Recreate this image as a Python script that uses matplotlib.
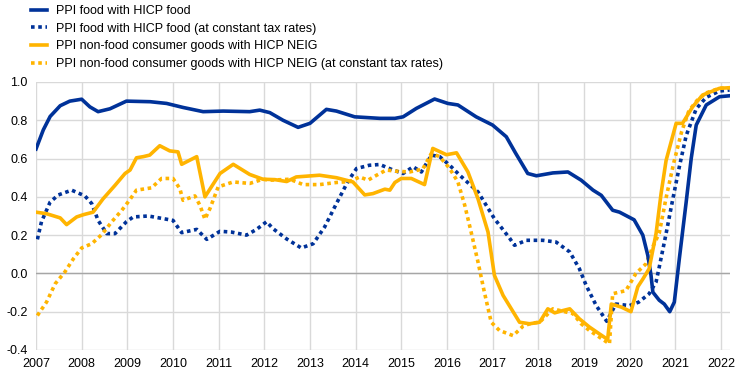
import matplotlib
matplotlib.use('Agg')
import matplotlib.pyplot as plt

plt.rcParams['font.family'] = ['Liberation Sans', 'DejaVu Sans']
plt.rcParams['axes.unicode_minus'] = False

# PPI food with HICP food
food_x = [2007.0, 2007.16, 2007.31, 2007.53, 2007.74, 2008.0, 2008.18, 2008.36, 2008.62, 2008.98,
          2009.5, 2009.86, 2010.22, 2010.66, 2011.1, 2011.68, 2011.9, 2012.12, 2012.41, 2012.74,
          2013.0, 2013.36, 2013.58, 2013.98, 2014.53, 2014.86, 2015.04, 2015.33, 2015.73, 2016.02,
          2016.24, 2016.64, 2017.0, 2017.3, 2017.5, 2017.77, 2017.96, 2018.32, 2018.65, 2018.94,
          2019.2, 2019.38, 2019.63, 2019.78, 2020.1, 2020.29, 2020.4, 2020.47, 2020.51, 2020.65,
          2020.76, 2020.88, 2020.98, 2021.09, 2021.24, 2021.35, 2021.46, 2021.68, 2021.97, 2022.19]
food_y = [0.65, 0.75, 0.82, 0.876, 0.90, 0.91, 0.87, 0.845, 0.86, 0.90,
          0.897, 0.888, 0.867, 0.845, 0.848, 0.845, 0.853, 0.84, 0.80, 0.763,
          0.784, 0.857, 0.848, 0.818, 0.81, 0.81, 0.818, 0.862, 0.911, 0.888,
          0.88, 0.818, 0.775, 0.714, 0.63, 0.522, 0.51, 0.525, 0.53, 0.487,
          0.435, 0.408, 0.33, 0.32, 0.28, 0.2, 0.094, -0.01, -0.098, -0.14,
          -0.16, -0.2, -0.15, 0.077, 0.373, 0.60, 0.775, 0.88, 0.923, 0.928]

# PPI food with HICP food (at constant tax rates)
food_ct_x = [2007.03, 2007.12, 2007.31, 2007.49, 2007.78, 2008.07, 2008.22, 2008.36, 2008.55, 2008.73,
             2008.98, 2009.13, 2009.46, 2009.79, 2010.0, 2010.19, 2010.52, 2010.74, 2011.03, 2011.28,
             2011.61, 2011.83, 2012.05, 2012.19, 2012.49, 2012.81, 2013.07, 2013.32, 2013.58, 2013.83,
             2014.02, 2014.3, 2014.53, 2014.82, 2015.04, 2015.26, 2015.44, 2015.66, 2015.84, 2016.06,
             2016.28, 2016.68, 2017.04, 2017.37, 2017.48, 2017.74, 2018.1, 2018.39, 2018.69, 2018.9,
             2019.05, 2019.27, 2019.5, 2019.7, 2020.0, 2020.2, 2020.43, 2020.58, 2020.65, 2020.8,
             2020.94, 2021.09, 2021.24, 2021.46, 2021.68, 2021.97, 2022.19]
food_ct_y = [0.178, 0.27, 0.373, 0.41, 0.435, 0.405, 0.365, 0.277, 0.208, 0.208,
             0.27, 0.295, 0.30, 0.286, 0.277, 0.213, 0.23, 0.178, 0.22, 0.216,
             0.2, 0.23, 0.27, 0.234, 0.18, 0.133, 0.155, 0.242, 0.365, 0.48,
             0.548, 0.565, 0.569, 0.54, 0.522, 0.557, 0.53, 0.618, 0.61, 0.565,
             0.513, 0.426, 0.286, 0.185, 0.147, 0.173, 0.173, 0.164, 0.112, 0.025,
             -0.063, -0.168, -0.25, -0.16, -0.168, -0.15, -0.106, -0.045, 0.033, 0.208,
             0.38, 0.557, 0.72, 0.86, 0.92, 0.953, 0.958]

# PPI non-food consumer goods with HICP NEIG
neig_x = [2007.0, 2007.23, 2007.53, 2007.67, 2007.89, 2008.04, 2008.25, 2008.47, 2008.73, 2008.95,
          2009.06, 2009.2, 2009.35, 2009.49, 2009.71, 2009.93, 2010.11, 2010.19, 2010.52, 2010.7,
          2011.03, 2011.32, 2011.68, 2011.97, 2012.23, 2012.49, 2012.7, 2013.21, 2013.58, 2013.94,
          2014.2, 2014.38, 2014.64, 2014.75, 2014.86, 2015.0, 2015.22, 2015.51, 2015.69, 2015.99,
          2016.21, 2016.46, 2016.68, 2016.9, 2017.04, 2017.23, 2017.41, 2017.59, 2017.81, 2018.03,
          2018.21, 2018.36, 2018.54, 2018.69, 2018.9, 2019.12, 2019.34, 2019.52, 2019.6, 2019.82,
          2020.03, 2020.18, 2020.29, 2020.43, 2020.58, 2020.69, 2020.8, 2021.02, 2021.16, 2021.38,
          2021.6, 2021.97, 2022.19]
neig_y = [0.32, 0.312, 0.29, 0.255, 0.295, 0.307, 0.32, 0.39, 0.46, 0.522,
          0.54, 0.604, 0.61, 0.618, 0.667, 0.64, 0.635, 0.57, 0.61, 0.40,
          0.522, 0.57, 0.517, 0.492, 0.49, 0.48, 0.504, 0.513, 0.5, 0.478,
          0.41, 0.417, 0.44, 0.435, 0.475, 0.496, 0.496, 0.464, 0.653, 0.62,
          0.63, 0.53, 0.39, 0.216, -0.01, -0.115, -0.185, -0.255, -0.263, -0.255,
          -0.185, -0.206, -0.194, -0.185, -0.237, -0.28, -0.316, -0.345, -0.16, -0.176,
          -0.2, -0.07, -0.03, 0.025, 0.208, 0.417, 0.59, 0.784, 0.784, 0.87,
          0.932, 0.967, 0.97]

# PPI non-food consumer goods with HICP NEIG (at constant tax rates)
neig_ct_x = [2007.03, 2007.23, 2007.42, 2007.63, 2007.82, 2008.0, 2008.22, 2008.44, 2008.66, 2008.88,
             2009.06, 2009.2, 2009.53, 2009.75, 2010.0, 2010.15, 2010.22, 2010.48, 2010.59, 2010.7,
             2010.81, 2010.99, 2011.32, 2011.68, 2011.97, 2012.12, 2012.56, 2012.85, 2013.21, 2013.58,
             2013.87, 2014.09, 2014.27, 2014.46, 2014.67, 2014.89, 2015.18, 2015.47, 2015.66, 2015.84,
             2016.06, 2016.24, 2016.39, 2016.53, 2016.68, 2016.82, 2016.97, 2017.15, 2017.45, 2017.67,
             2017.85, 2018.03, 2018.32, 2018.58, 2018.76, 2018.94, 2019.12, 2019.34, 2019.56, 2019.63,
             2019.92, 2020.14, 2020.36, 2020.51, 2020.65, 2020.8, 2020.97, 2021.14, 2021.3, 2021.5,
             2021.7, 2021.97, 2022.19]
neig_ct_y = [-0.22, -0.15, -0.054, 0.007, 0.077, 0.133, 0.155, 0.203, 0.27, 0.33,
             0.387, 0.435, 0.447, 0.496, 0.496, 0.443, 0.382, 0.405, 0.356, 0.283,
             0.339, 0.452, 0.478, 0.47, 0.492, 0.487, 0.492, 0.464, 0.464, 0.475,
             0.48, 0.504, 0.487, 0.513, 0.54, 0.534, 0.53, 0.545, 0.627, 0.61,
             0.548, 0.478, 0.356, 0.216, 0.06, -0.098, -0.255, -0.298, -0.325, -0.275,
             -0.26, -0.255, -0.185, -0.2, -0.21, -0.263, -0.298, -0.333, -0.368, -0.106,
             -0.09, 0.0, 0.05, 0.14, 0.21, 0.395, 0.58, 0.74, 0.85, 0.91,
             0.945, 0.967, 0.97]

years = list(range(2007, 2023))
yticks = [-0.4, -0.2, 0.0, 0.2, 0.4, 0.6, 0.8, 1.0]

blue = '#003299'
yellow = '#ffb400'

fig = plt.figure(figsize=(7.44, 3.78), dpi=100)
ax = fig.add_axes([0.0484, 0.0741, 0.9328, 0.709])

l1, = ax.plot(food_x, food_y, color=blue, lw=2.6, solid_joinstyle='round', zorder=4,
              label='PPI food with HICP food')
l2, = ax.plot(food_ct_x, food_ct_y, color=blue, lw=2.6, ls=(0, (1, 1)), zorder=3,
              label='PPI food with HICP food (at constant tax rates)')
l3, = ax.plot(neig_x, neig_y, color=yellow, lw=2.6, solid_joinstyle='round', zorder=4,
              label='PPI non-food consumer goods with HICP NEIG')
l4, = ax.plot(neig_ct_x, neig_ct_y, color=yellow, lw=2.6, ls=(0, (1, 1)), zorder=3,
              label='PPI non-food consumer goods with HICP NEIG (at constant tax rates)')

ax.set_xlim(2007, 2022.2)
ax.set_ylim(-0.4, 1.0)
ax.set_xticks(years)
ax.set_xticklabels([str(y) for y in years])
ax.set_yticks(yticks)
ax.set_yticklabels(['%.1f' % v for v in yticks])
ax.grid(True, color='#d9d9d9', lw=1)
ax.axhline(0, color='#a6a6a6', lw=1, zorder=2)
ax.set_axisbelow(True)
for s in ax.spines.values():
    s.set_visible(False)
ax.tick_params(length=0, labelsize=9, pad=6)

fig.legend(handles=[l1, l2, l3, l4], loc='upper left', bbox_to_anchor=(0.035, 1.0),
           frameon=False, fontsize=9, handlelength=1.3, handletextpad=0.7,
           labelspacing=0.45, borderaxespad=0)

fig.savefig('out.png', dpi=100)
